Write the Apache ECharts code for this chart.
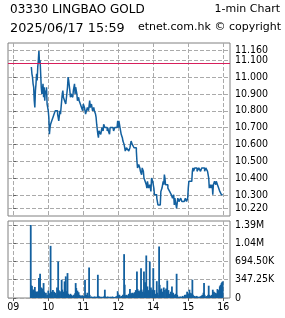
<!DOCTYPE html>
<html>
<head>
<meta charset="utf-8">
<script src="https://cdn.jsdelivr.net/npm/echarts@6/dist/echarts.min.js"></script>
<style>
html, body { margin: 0; padding: 0; background: #fff; }
#main { width: 285px; height: 318px; }
</style>
</head>
<body>
<div id="main"></div>
<script>
// trading clock: minutes after 09:00, lunch (12:00-13:00) removed
var hourTicks = [0, 60, 120, 180, 240, 300, 360];
var hourLabels = ['09', '10', '11', '12', '14', '15', '16'];

var priceTicks = [11.16, 11.10, 11.00, 10.90, 10.80, 10.70, 10.60, 10.50, 10.40, 10.30, 10.22];
var prevClose = 11.08;

var priceMin = [31,32,33,34,35,36,37,38,39,40,41,42,43,44,45,46,47,48,49,50,51,52,53,54,55,56,57,58,59,60,
    61,62,63,64,66,68,70,72,74,76,77,78,80,81,83,84,85,86,88,90,92,93,94,95,96,97,98,99,100,102,103,104,105,106,107,
    109,110,112,113,115,117,119,120,122,124,126,127,129,131,132,134,135,136,138,139,141,142,143,145,146,147,149,150,
    152,154,155,157,159,161,162,163,165,166,168,171,172,174,176,178,179,180,181,182,183,185,187,188,190,191,192,194,
    195,197,198,200,202,204,205,207,209,211,212,213,215,217,218,220,221,223,224,226,228,229,230,232,234,236,237,239,
    241,242,244,245,246,248,250,252,253,255,257,258,259,260,261,263,265,267,268,270,271,273,275,276,277,278,280,282,
    284,285,287,289,291,293,295,297,299,300,301,302,304,306,307,308,309,311,313,315,316,318,319,321,323,325,326,328,
    330,332,333,334,335,336,338,339,341,342,343,345,347,348,350,352,354,355,357,359];
var priceVal = [11.06,11.02,11.00,10.96,10.94,10.86,10.82,10.92,10.96,11.02,10.98,11.06,11.10,11.16,11.08,11.10,11.02,10.94,10.90,10.92,10.96,10.88,10.94,10.86,10.92,10.90,10.94,10.84,10.82,10.80,
    10.76,10.66,10.70,10.72,10.74,10.76,10.78,10.80,10.80,10.78,10.76,10.74,10.80,10.78,10.86,10.90,10.92,10.88,10.86,10.84,10.84,10.94,11.00,10.98,10.98,10.92,10.88,10.90,10.90,10.88,10.92,10.92,10.96,10.90,10.94,
    10.90,10.86,10.88,10.86,10.84,10.82,10.80,10.84,10.82,10.78,10.78,10.82,10.80,10.86,10.82,10.84,10.84,10.80,10.82,10.80,10.78,10.76,10.72,10.66,10.64,10.68,10.68,10.66,
    10.70,10.68,10.72,10.70,10.70,10.68,10.70,10.68,10.66,10.70,10.70,10.70,10.68,10.70,10.70,10.70,10.74,10.70,10.74,10.72,10.70,10.66,10.64,10.62,10.60,10.58,10.56,10.58,
    10.58,10.58,10.56,10.58,10.62,10.60,10.60,10.58,10.58,10.56,10.50,10.46,10.48,10.46,10.44,10.42,10.46,10.44,10.40,10.38,10.36,10.34,10.38,10.34,10.36,10.32,10.40,10.38,
    10.34,10.30,10.30,10.30,10.28,10.24,10.24,10.24,10.32,10.34,10.38,10.36,10.42,10.40,10.36,10.36,10.34,10.34,10.32,10.32,10.30,10.28,10.30,10.24,10.28,10.26,10.22,10.28,
    10.26,10.26,10.28,10.26,10.26,10.26,10.28,10.26,10.28,10.34,10.38,10.38,10.38,10.38,10.44,10.46,10.44,10.46,10.46,10.44,10.44,10.46,10.46,10.44,10.46,10.46,10.46,10.44,
    10.46,10.46,10.44,10.42,10.40,10.34,10.36,10.34,10.36,10.30,10.36,10.38,10.36,10.38,10.36,10.34,10.32,10.32,10.30,10.30];

var volTicks = [0, 347250, 694500, 1041750, 1389000];
var volMin = [30,31,32,33,34,35,36,37,38,40,42,44,45,46,47,48,49,50,52,53,54,56,58,60,62,64,65,66,67,68,70,72,74,75,76,77,78,79,80,82,83,84,86,88,89,90,91,92,93,94,96,98,
    100,102,104,106,107,108,109,110,112,114,116,118,120,122,123,124,126,127,128,130,131,132,134,136,138,140,142,144,145,146,148,150,152,154,156,157,158,160,162,164,166,168,170,172,174,176,178,179,180,
    181,182,184,186,188,190,191,192,194,196,198,200,201,202,204,206,208,210,211,212,213,214,216,217,218,219,220,222,224,225,226,227,228,229,230,232,234,235,236,238,240,241,242,244,246,247,248,250,251,252,254,256,258,260,262,264,265,266,268,270,272,273,274,276,278,280,
    281,282,284,286,288,290,292,294,296,298,300,302,303,304,306,307,308,310,312,314,316,318,320,322,324,326,327,328,330,332,334,335,336,338,340,342,343,344,346,348,350,352,354,355,356,357,358,359];
var volK = [1389,240,230,130,160,125,130,210,125,120,125,380,150,461,160,200,140,180,284,120,90,100,60,140,90,992,110,120,80,150,120,100,60,200,80,695,150,100,130,110,348,160,120,316,100,411,130,100,474,80,60,80,
    60,40,60,90,284,190,110,140,110,60,40,50,40,30,348,60,60,100,40,581,60,20,30,20,25,30,20,30,442,40,30,20,25,20,40,158,30,20,30,20,25,20,30,20,20,30,40,130,40,
    60,60,30,40,60,834,253,50,60,50,80,170,60,90,100,90,110,150,90,505,170,140,130,100,150,568,160,120,505,100,300,120,809,200,220,150,695,120,200,160,568,120,150,80,320,100,60,980,250,160,180,120,200,150,180,333,120,150,80,120,220,80,100,60,80,461,
    60,30,20,30,20,40,30,60,60,120,80,158,100,60,90,348,60,40,30,40,30,20,30,40,60,100,284,60,30,40,60,234,60,40,60,158,60,120,100,90,170,150,220,240,250,284,300,316];

var blue = '#13609f';
var gridLine = { color: '#aaaaaa', type: 'dashed', width: 1 };
var labelFamily = 'DejaVu Sans Condensed';

var priceData = priceMin.map(function (m, i) { return [m, priceVal[i]]; });
var volData = volMin.map(function (m, i) { return [m, volK[i] * 1000]; });

function fmtVol(v) {
    if (v === 0) return '0';
    if (v >= 1000000) return (v / 1000000).toFixed(2) + 'M';
    return (v / 1000).toFixed(2) + 'K';
}

function titleFont(size) {
    return { fontFamily: 'DejaVu Sans', fontSize: size, fontWeight: 'normal', color: '#000' };
}

var myChart = echarts.init(document.getElementById('main'));

var option = {
    animation: false,
    title: [
        { text: '03330 LINGBAO GOLD', left: 10, top: 4, padding: 0, textStyle: titleFont(12) },
        { text: '1-min Chart', right: 5, top: 4, padding: 0, textStyle: titleFont(11) },
        { text: '2025/06/17 15:59', left: 10, top: 22, padding: 0, textStyle: titleFont(12.8) },
        { text: 'etnet.com.hk © copyright', right: 4, top: 22, padding: 0, textStyle: titleFont(11) }
    ],
    grid: [
        { left: 8, top: 43, width: 222, height: 173, show: true, borderColor: '#808080', borderWidth: 1 },
        { left: 8, top: 221, width: 222, height: 77, show: true, borderColor: '#808080', borderWidth: 1 }
    ],
    xAxis: [
        {
            gridIndex: 0, type: 'value', min: -9, max: 371.5,
            axisLine: { show: false },
            axisTick: { show: false, customValues: hourTicks },
            axisLabel: { show: false, customValues: hourTicks },
            splitLine: { show: true, lineStyle: gridLine }
        },
        {
            gridIndex: 1, type: 'value', min: -9, max: 371.5,
            axisLine: { show: false },
            axisTick: { show: true, length: 3, customValues: hourTicks, lineStyle: { color: '#606060' } },
            axisLabel: {
                show: true, margin: 4, customValues: hourTicks, hideOverlap: false,
                fontFamily: labelFamily, fontSize: 10.5, color: '#000',
                formatter: function (v) { return hourLabels[hourTicks.indexOf(v)]; }
            },
            splitLine: { show: true, lineStyle: gridLine }
        }
    ],
    yAxis: [
        {
            gridIndex: 0, type: 'value', position: 'right', min: 10.174, max: 11.203,
            axisLine: { show: false },
            axisTick: { show: true, length: 3, customValues: priceTicks, lineStyle: { color: '#606060' } },
            axisLabel: {
                show: true, margin: 5, customValues: priceTicks, hideOverlap: false,
                fontFamily: labelFamily, fontSize: 10.5, color: '#000',
                formatter: function (v) { return v.toFixed(3); }
            },
            splitLine: { show: true, lineStyle: gridLine }
        },
        {
            gridIndex: 1, type: 'value', position: 'right', min: 0, max: 1465000,
            axisLine: { show: false },
            axisTick: { show: true, length: 3, customValues: volTicks, lineStyle: { color: '#606060' } },
            axisLabel: {
                show: true, margin: 5, customValues: volTicks, hideOverlap: false,
                fontFamily: labelFamily, fontSize: 10.5, color: '#000',
                formatter: fmtVol
            },
            splitLine: { show: true, lineStyle: gridLine }
        }
    ],
    series: [
        {
            name: 'price',
            type: 'line',
            xAxisIndex: 0,
            yAxisIndex: 0,
            data: priceData,
            step: 'end',
            showSymbol: false,
            lineStyle: { color: blue, width: 1.5 },
            markLine: {
                silent: true,
                symbol: 'none',
                label: { show: false },
                lineStyle: { color: '#d81e5b', type: 'solid', width: 1 },
                data: [
                    { yAxis: prevClose },
                    // day high label sits too close to 11.100 for the axis, so it is drawn here
                    { yAxis: priceTicks[0], lineStyle: gridLine,
                      label: { show: true, position: 'end', distance: 5, formatter: priceTicks[0].toFixed(3),
                               fontFamily: labelFamily, fontSize: 10.5, color: '#000' } }
                ]
            }
        },
        {
            name: 'volume',
            type: 'bar',
            xAxisIndex: 1,
            yAxisIndex: 1,
            data: volData,
            barWidth: 1.8,
            itemStyle: { color: blue }
        }
    ]
};

myChart.setOption(option);
</script>
</body>
</html>
